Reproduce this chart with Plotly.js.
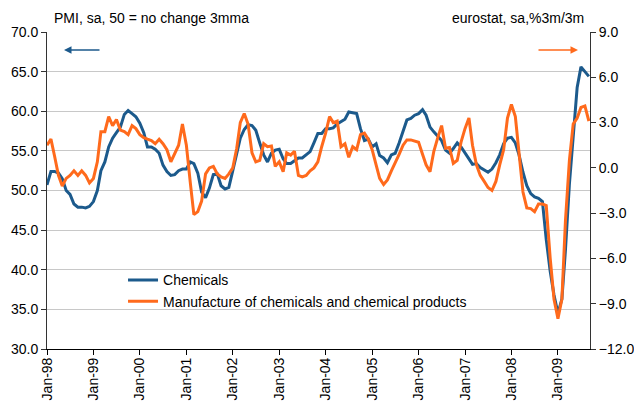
<!DOCTYPE html>
<html>
<head>
<meta charset="utf-8">
<script src="https://cdn.plot.ly/plotly-3.0.1.min.js"></script>
<style>
html,body{margin:0;padding:0;background:#fff;}
#chart{width:634px;height:401px;}
</style>
</head>
<body>
<div id="chart"></div>
<script>
// Monthly observations, Jan-1998 .. Sep-2009
var startMonth = '1998-01';
var chemicalsPMI = [
  50.7, 52.4, 52.4, 52.2, 51.5, 50.0, 49.5, 48.3, 47.9, 47.9, 47.8, 48.0,
  48.6, 50.0, 52.5, 53.6, 55.5, 56.6, 57.3, 58.0, 59.6, 60.1, 59.7, 59.3,
  58.5, 57.3, 55.5, 55.5, 55.2, 54.7, 53.2, 52.4, 51.9, 52.0, 52.5, 52.7,
  52.7, 53.6, 53.4, 52.2, 49.8, 49.1, 50.3, 52.0, 52.1, 50.6, 50.2, 50.4,
  52.5, 54.7, 56.6, 57.7, 58.3, 58.2, 57.6, 56.0, 54.5, 53.6, 54.7, 55.1,
  55.2, 54.0, 53.4, 53.4, 53.8, 54.1, 54.1, 54.5, 54.9, 56.0, 57.2, 57.2,
  57.8, 57.8, 57.9, 58.4, 58.7, 59.0, 59.9, 59.8, 59.7, 57.8, 56.3, 56.5,
  55.5, 55.9, 54.4, 54.1, 53.5, 54.5, 54.7, 56.0, 57.5, 58.9, 59.1, 59.5,
  59.7, 60.2, 59.5, 58.0, 57.4, 56.8, 56.3, 55.1, 54.7, 55.3, 56.0, 55.5,
  54.8, 54.0, 53.3, 53.4, 52.9, 52.6, 52.3, 52.7, 53.5, 54.5, 55.9, 56.6,
  56.7, 56.0, 54.5, 52.3, 50.6, 49.6, 49.2, 49.0, 48.6, 43.8, 39.8, 36.8,
  34.5, 36.3, 42.5, 50.8, 57.3, 63.0, 65.6, 65.0, 64.4
];
var eurostatChem = [
   1.5,  1.9,  0.8, -0.5, -1.2, -0.7, -0.5, -0.2, -0.5, -0.2, -0.5, -1.0,
  -0.7,  0.4,  2.4,  2.4,  3.4,  2.8,  3.2,  2.5,  2.4,  2.2,  2.8,  2.6,
   2.2,  2.0,  1.9,  1.8,  1.6,  1.9,  1.6,  1.2,  0.4,  0.9,  1.5,  2.9,
   1.5, -1.0, -3.1, -2.9, -2.2, -0.4,  0.0,  0.1, -0.4, -0.6, -0.7, -0.4,
   0.0,  1.3,  3.0,  3.6,  2.9,  1.0,  0.4,  0.5,  1.6,  1.4,  1.45, 0.1,
   0.4, -0.25, 1.0,  0.85, 1.1, -0.5, -0.6, -0.5, -0.2,  0.0,  0.4,  1.4,
   2.3,  3.4,  3.0,  3.1,  1.4,  1.6,  0.7,  1.4,  1.2,  2.2,  2.3,  1.9,
   1.2,  0.2, -0.7, -1.1, -0.8, -0.2,  0.4,  0.9,  1.5,  1.85, 1.85, 1.8,
   1.7,  0.9,  0.2, -0.25, 1.1,  2.0,  2.8,  1.3,  1.35, 0.3,  0.5,  1.7,
   2.6,  3.3,  1.5,  0.2, -0.5, -0.9, -1.3, -1.5, -0.9,  0.2,  1.2,  3.3,
   4.2,  3.4,  0.8, -1.6, -2.65, -2.7, -2.9, -2.4, -2.4, -2.5, -6.0, -8.7,
  -10.0, -8.7, -3.5,  0.5,  2.9,  3.3,  4.0,  4.1,  3.1
];
var seriesNames = ['Chemicals', 'Manufacture of chemicals and chemical products'];
var leftTitle = 'PMI, sa, 50 = no change 3mma';
var rightTitle = 'eurostat, sa,%3m/3m';

var months = [];
(function(){
  var y = parseInt(startMonth.slice(0,4),10), m = parseInt(startMonth.slice(5,7),10);
  for (var i = 0; i < chemicalsPMI.length; i++) {
    months.push(y + '-' + (m < 10 ? '0' + m : m) + '-01');
    m++; if (m > 12) { m = 1; y++; }
  }
})();

var FONT = 'Liberation Sans, Arial, sans-serif';
var FS = 14;
var BLUE = '#1c5a8c';
var ORANGE = '#ff6a1c';

var traces = [
  {x: months, y: chemicalsPMI, name: seriesNames[0], type: 'scatter', mode: 'lines',
   line: {color: BLUE, width: 3}, yaxis: 'y'},
  {x: months, y: eurostatChem, name: seriesNames[1], type: 'scatter', mode: 'lines',
   line: {color: ORANGE, width: 3}, yaxis: 'y2'}
];

var layout = {
  width: 634, height: 401,
  margin: {l: 47, r: 44, t: 32, b: 52},
  paper_bgcolor: '#fff', plot_bgcolor: '#fff',
  font: {family: FONT, size: FS, color: '#000'},
  showlegend: true,
  legend: {x: 0.14, y: 0.267, xanchor: 'left', yanchor: 'top', bgcolor: 'rgba(0,0,0,0)',
           font: {family: FONT, size: FS, color: '#000'}, tracegroupgap: 0},
  xaxis: {type: 'date', range: ['1998-01-01', '2009-09-10'], tick0: '1998-01-01', dtick: 'M12',
          tickformat: '%b-%y', tickangle: -90, ticks: 'outside', ticklen: 5, tickcolor: '#000',
          ticklabelstandoff: -3,
          showline: true, linecolor: '#000', linewidth: 1, showgrid: false, zeroline: false,
          tickfont: {family: FONT, size: FS, color: '#000'}},
  yaxis: {range: [30, 70], dtick: 5, tick0: 30, tickformat: '.1f', ticks: 'outside', ticklen: 5,
          tickcolor: '#333', showline: true, linecolor: '#333', linewidth: 1,
          showgrid: true, gridcolor: '#c8c8c8', gridwidth: 1, zeroline: false,
          tickfont: {family: FONT, size: FS, color: '#000'}},
  yaxis2: {range: [-12, 9], dtick: 3, tick0: 0, tickformat: '.1f', overlaying: 'y', side: 'right',
           ticks: 'outside', ticklen: 5, tickcolor: '#333', showline: true, linecolor: '#333',
           linewidth: 1, showgrid: false, zeroline: false,
           tickfont: {family: FONT, size: FS, color: '#000'}},
  annotations: [
    {xref: 'paper', yref: 'paper', x: (52-47)/543, y: (349-18)/317, xanchor: 'left', yanchor: 'middle',
     text: leftTitle, showarrow: false, font: {family: FONT, size: FS, color: '#000'}},
    {xref: 'paper', yref: 'paper', x: (586-47)/543, y: (349-18)/317, xanchor: 'right', yanchor: 'middle',
     text: rightTitle, showarrow: false, font: {family: FONT, size: FS, color: '#000'}},
    {xref: 'paper', yref: 'paper', x: (64-47)/543, y: (349-50)/317, ax: 37, ay: 0, text: '',
     showarrow: true, arrowhead: 2, arrowsize: 1, arrowwidth: 1.5, arrowcolor: BLUE},
    {xref: 'paper', yref: 'paper', x: (578-47)/543, y: (349-50)/317, ax: -41, ay: 0, text: '',
     showarrow: true, arrowhead: 2, arrowsize: 1, arrowwidth: 1.5, arrowcolor: ORANGE}
  ]
};

Plotly.newPlot('chart', traces, layout, {displayModeBar: false, staticPlot: true});
</script>
</body>
</html>
